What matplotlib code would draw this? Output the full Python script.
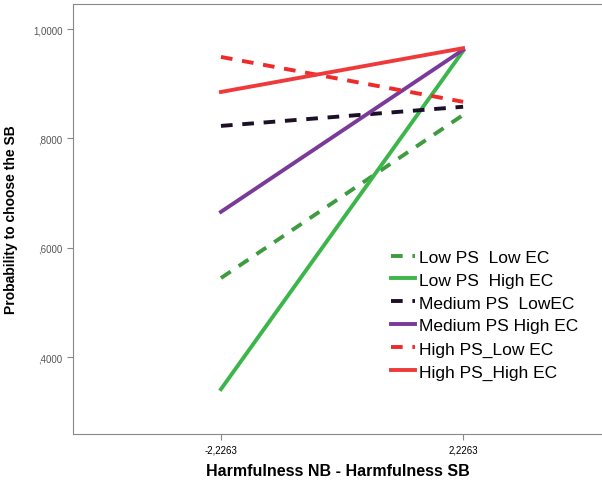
import matplotlib.pyplot as plt

x = [-2.2263, 2.2263]
series = ['Low PS  Low EC', 'Low PS  High EC', 'Medium PS  LowEC',
          'Medium PS High EC', 'High PS_Low EC', 'High PS_High EC']
left_vals = [0.545, 0.342, 0.823, 0.666, 0.949, 0.885]
right_vals = [0.843, 0.960, 0.858, 0.962, 0.867, 0.965]
colors = ['#3f9b3f', '#3cb64a', '#1c1026', '#7a3a9a', '#ee2a2a', '#ee3a3a']
styles = ['--', '-', '--', '-', '--', '-']

plt.rcParams['font.family'] = ['Liberation Sans', 'DejaVu Sans']
fig = plt.figure(figsize=(6.02, 4.85), dpi=100)
ax = fig.add_axes([0.121, 0.103, 0.879, 0.887])

for name, a, b, c, s in zip(series, left_vals, right_vals, colors, styles):
    ax.plot(x, [a, b], color=c, linestyle=s, linewidth=2.8, label=name,
            dashes=(3, 2.5) if s == '--' else (None, None))

ax.set_xlim(-4.95, 4.78)
ax.set_ylim(0.26, 1.046)
ax.set_xticks(x)
ax.set_xticklabels(['-2,2263', '2,2263'], fontsize=7)
ax.set_yticks([0.4, 0.6, 0.8, 1.0])
ax.set_yticklabels([',4000', ',6000', ',8000', '1,0000'], fontsize=7, color='#555555')
ax.set_xlabel('Harmfulness NB - Harmfulness SB', fontsize=11.5, fontweight='bold', labelpad=6)
ax.set_ylabel('Probability to choose the SB', fontsize=10, fontweight='bold')
ax.yaxis.set_label_coords(-0.104, 0.5)
for sp in ax.spines.values():
    sp.set_color('#888888')
ax.spines['right'].set_visible(False)
ax.tick_params(length=4, color='#888888')

ax.legend(loc='lower right', bbox_to_anchor=(0.985, 0.09), frameon=False,
          fontsize=12.5, handlelength=1.4, handletextpad=0.25, labelspacing=0.45)

fig.savefig('out.png', dpi=100)
